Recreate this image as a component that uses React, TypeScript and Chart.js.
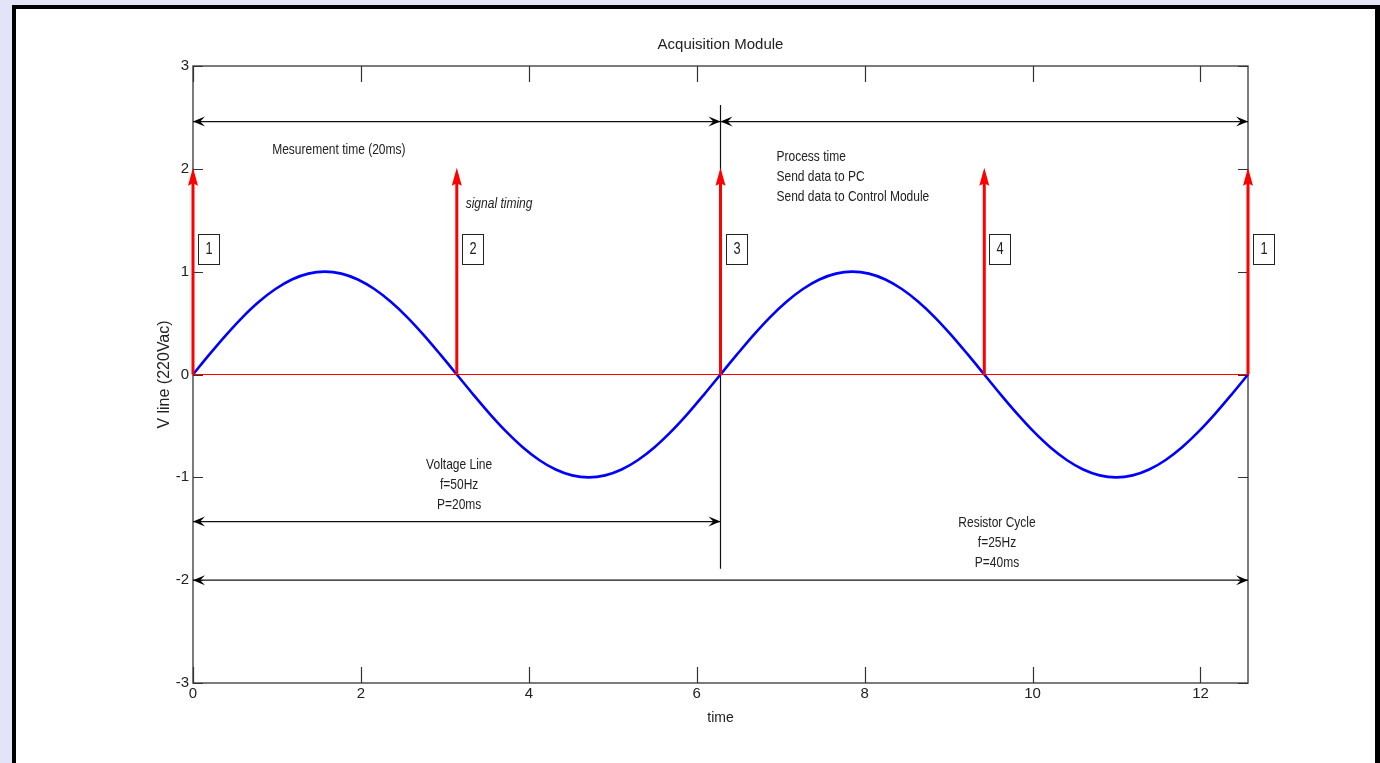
import React, { useEffect, useRef } from 'react';
import { Chart, registerables } from 'chart.js';

Chart.register(...registerables);

// ---- data ----
const SINE_X = [
  0, 0.196, 0.393, 0.589, 0.785, 0.982, 1.178, 1.374, 1.571, 1.767, 1.963, 2.16, 2.356, 2.553, 2.749, 2.945,
  3.142, 3.338, 3.534, 3.731, 3.927, 4.123, 4.32, 4.516, 4.712, 4.909, 5.105, 5.301, 5.498, 5.694, 5.891, 6.087,
  6.283, 6.48, 6.676, 6.872, 7.069, 7.265, 7.461, 7.658, 7.854, 8.05, 8.247, 8.443, 8.639, 8.836, 9.032, 9.228,
  9.425, 9.621, 9.818, 10.014, 10.21, 10.407, 10.603, 10.799, 10.996, 11.192, 11.388, 11.585, 11.781, 11.977, 12.174, 12.37,
  12.566,
];
const SINE_Y = [
  0, 0.195, 0.383, 0.556, 0.707, 0.831, 0.924, 0.981, 1, 0.981, 0.924, 0.831, 0.707, 0.556, 0.383, 0.195,
  0, -0.195, -0.383, -0.556, -0.707, -0.831, -0.924, -0.981, -1, -0.981, -0.924, -0.831, -0.707, -0.556, -0.383, -0.195,
  0, 0.195, 0.383, 0.556, 0.707, 0.831, 0.924, 0.981, 1, 0.981, 0.924, 0.831, 0.707, 0.556, 0.383, 0.195,
  0, -0.195, -0.383, -0.556, -0.707, -0.831, -0.924, -0.981, -1, -0.981, -0.924, -0.831, -0.707, -0.556, -0.383, -0.195,
  0,
];
const X_TICKS = [0, 2, 4, 6, 8, 10, 12];
const Y_TICKS = [-3, -2, -1, 0, 1, 2, 3];
const X_RANGE = [0, 12.566];
const Y_RANGE = [-3, 3];

const ZERO_LINE_X = [0, 12.566];
const MARKER_X = [0, 3.142, 6.283, 9.425, 12.566];
const MARKER_LABELS = ['1', '2', '3', '4', '1'];
const MARKER_TOP = 2;
const MARKER_LABEL_Y = 1.225;

const SPAN_FROM = [0, 6.283, 0, 0];
const SPAN_TO = [6.283, 12.566, 6.283, 12.566];
const SPAN_Y = [2.46, 2.46, -1.43, -2.0];

const DIVIDER_X = 6.283;
const DIVIDER_Y = [2.62, -1.89];

const NOTE_TEXT = [
  ['Mesurement time (20ms)'],
  ['signal timing'],
  ['Process time', 'Send data to PC', 'Send data to Control Module'],
  ['Voltage Line', 'f=50Hz', 'P=20ms'],
  ['Resistor Cycle', 'f=25Hz', 'P=40ms'],
];
const NOTE_X = [0.943, 3.248, 6.95, 3.17, 9.576];
const NOTE_Y = [2.18, 1.658, 2.115, -0.88, -1.44];
const NOTE_ALIGN: CanvasTextAlign[] = ['left', 'left', 'left', 'center', 'center'];
const NOTE_ITALIC = [false, true, false, false, false];

// ---- styles ----
const SANS = '"Liberation Sans", Arial, sans-serif';
const TEXT = '#222222';
const AXIS = '#505050';
const SQUEEZE = 0.8;

function drawHead(ctx: CanvasRenderingContext2D, tx: number, ty: number, dx: number, dy: number,
  len: number, half: number, back: number, color: string) {
  const bx = tx - dx * len;
  const by = ty - dy * len;
  const nx = -dy;
  const ny = dx;
  const mx = tx - dx * len * (1 - back);
  const my = ty - dy * len * (1 - back);
  ctx.beginPath();
  ctx.moveTo(tx, ty);
  ctx.lineTo(bx + nx * half, by + ny * half);
  ctx.lineTo(mx, my);
  ctx.lineTo(bx - nx * half, by - ny * half);
  ctx.closePath();
  ctx.fillStyle = color;
  ctx.fill();
}

function squeezedText(ctx: CanvasRenderingContext2D, text: string, x: number, y: number, align: CanvasTextAlign) {
  ctx.save();
  ctx.translate(x, y);
  ctx.scale(SQUEEZE, 1);
  ctx.textAlign = align;
  ctx.textBaseline = 'middle';
  ctx.fillText(text, 0, 0);
  ctx.restore();
}

const figurePlugin = {
  id: 'figure',
  beforeDraw(chart: any) {
    const { ctx, width, height } = chart;
    ctx.save();
    ctx.fillStyle = '#e4e4f8';
    ctx.fillRect(0, 0, width, height);
    ctx.fillStyle = '#000000';
    ctx.fillRect(12, 5, width - 12, height);
    ctx.fillStyle = '#ffffff';
    ctx.fillRect(16, 9, width - 21, height);
    ctx.restore();
  },
  beforeDatasetsDraw(chart: any) {
    const { ctx, chartArea: a } = chart;
    const xs = chart.scales.x;
    const ys = chart.scales.y;
    ctx.save();
    ctx.strokeStyle = AXIS;
    ctx.lineWidth = 1.5;
    ctx.strokeRect(a.left, a.top, a.right - a.left, a.bottom - a.top);
    ctx.lineWidth = 1.2;
    ctx.strokeStyle = '#333';
    ctx.beginPath();
    xs.ticks.forEach((t: any) => {
      const px = Math.round(xs.getPixelForValue(t.value)) + 0.5;
      ctx.moveTo(px, a.bottom);
      ctx.lineTo(px, a.bottom - 16);
      ctx.moveTo(px, a.top);
      ctx.lineTo(px, a.top + 16);
    });
    ys.ticks.forEach((t: any) => {
      const py = Math.round(ys.getPixelForValue(t.value)) + 0.5;
      ctx.moveTo(a.left, py);
      ctx.lineTo(a.left + 10, py);
      ctx.moveTo(a.right, py);
      ctx.lineTo(a.right - 10, py);
    });
    ctx.stroke();
    ctx.restore();
  },
  afterDatasetsDraw(chart: any) {
    const { ctx } = chart;
    const xs = chart.scales.x;
    const ys = chart.scales.y;
    ctx.save();
    // black span arrowheads
    SPAN_FROM.forEach((f, i) => {
      const x1 = xs.getPixelForValue(f);
      const x2 = xs.getPixelForValue(SPAN_TO[i]);
      const y = ys.getPixelForValue(SPAN_Y[i]);
      drawHead(ctx, x1, y, -1, 0, 12, 5, 0.4, '#000');
      drawHead(ctx, x2, y, 1, 0, 12, 5, 0.4, '#000');
    });
    // red marker arrowheads + numbered boxes
    MARKER_X.forEach((mx, i) => {
      const px = xs.getPixelForValue(mx);
      const top = ys.getPixelForValue(MARKER_TOP);
      drawHead(ctx, px, top - 1, 0, -1, 18, 5, 0.15, '#ff0000');
      const ly = ys.getPixelForValue(MARKER_LABEL_Y);
      const bx = Math.round(px) + 5.5;
      const by = Math.round(ly - 15) + 0.5;
      ctx.strokeStyle = '#222';
      ctx.lineWidth = 1;
      ctx.strokeRect(bx, by, 21, 30);
      ctx.fillStyle = TEXT;
      ctx.font = `16px ${SANS}`;
      squeezedText(ctx, MARKER_LABELS[i], bx + 10.5, by + 15, 'center');
    });
    // notes
    NOTE_TEXT.forEach((lines, i) => {
      const px = xs.getPixelForValue(NOTE_X[i]);
      const py = ys.getPixelForValue(NOTE_Y[i]);
      ctx.fillStyle = TEXT;
      ctx.font = `${NOTE_ITALIC[i] ? 'italic ' : ''}15px ${SANS}`;
      lines.forEach((line, j) => squeezedText(ctx, line, px, py + j * 20, NOTE_ALIGN[i]));
    });
    ctx.restore();
  },
};

export default function App() {
  const canvasRef = useRef<HTMLCanvasElement | null>(null);

  useEffect(() => {
    const canvas = canvasRef.current;
    if (!canvas) return;

    const datasets: any[] = [];
    datasets.push({
      data: SINE_X.map((x, i) => ({ x, y: SINE_Y[i] })),
      borderColor: '#0000ff',
      borderWidth: 2.6,
      pointRadius: 0,
      cubicInterpolationMode: 'monotone',
      clip: false,
      order: 2,
    });
    datasets.push({
      data: ZERO_LINE_X.map((x) => ({ x, y: 0 })),
      borderColor: '#ff0000',
      borderWidth: 1.2,
      pointRadius: 0,
      clip: false,
      order: 1,
    });
    datasets.push({
      data: DIVIDER_Y.map((y) => ({ x: DIVIDER_X, y })),
      borderColor: '#111111',
      borderWidth: 1.2,
      pointRadius: 0,
      clip: false,
      order: 3,
    });
    SPAN_FROM.forEach((f, i) => {
      datasets.push({
        data: [{ x: f, y: SPAN_Y[i] }, { x: SPAN_TO[i], y: SPAN_Y[i] }],
        borderColor: '#111111',
        borderWidth: 1.2,
        pointRadius: 0,
        clip: false,
        order: 3,
      });
    });
    MARKER_X.forEach((mx) => {
      datasets.push({
        data: [{ x: mx, y: 0 }, { x: mx, y: MARKER_TOP - 0.12 }],
        borderColor: '#ff0000',
        borderWidth: 3,
        pointRadius: 0,
        clip: false,
        order: 0,
      });
    });

    const chart = new Chart(canvas, {
      type: 'line',
      data: { datasets },
      plugins: [figurePlugin],
      options: {
        responsive: false,
        animation: false,
        devicePixelRatio: 1,
        events: [],
        layout: { padding: { left: 0, right: 132, top: 0, bottom: 0 } },
        plugins: {
          legend: { display: false },
          tooltip: { enabled: false },
          title: {
            display: true,
            text: 'Acquisition Module',
            fullSize: false,
            color: TEXT,
            font: { family: SANS, size: 15, weight: 'normal', lineHeight: 1.2 },
            padding: { top: 36, bottom: 12 },
          },
        },
        scales: {
          x: {
            type: 'linear',
            min: X_RANGE[0],
            max: X_RANGE[1],
            afterBuildTicks: (s: any) => { s.ticks = X_TICKS.map((v) => ({ value: v })); },
            afterFit: (s: any) => { s.height = 80; },
            grid: { display: false, drawTicks: false },
            border: { display: false },
            ticks: { padding: 2, color: TEXT, autoSkip: false, maxRotation: 0, font: { family: SANS, size: 15 } },
            title: {
              display: true,
              text: 'time',
              color: TEXT,
              font: { family: SANS, size: 14, lineHeight: 1.2 },
              padding: { top: 0, bottom: 36.6 },
            },
          },
          y: {
            type: 'linear',
            min: Y_RANGE[0],
            max: Y_RANGE[1],
            afterBuildTicks: (s: any) => { s.ticks = Y_TICKS.map((v) => ({ value: v })); },
            afterFit: (s: any) => { s.width = 193; },
            grid: { display: false, drawTicks: false },
            border: { display: false },
            ticks: { padding: 4, color: TEXT, autoSkip: false, font: { family: SANS, size: 15 } },
            title: {
              display: true,
              text: 'V line (220Vac)',
              color: TEXT,
              font: { family: SANS, size: 16, lineHeight: 1.2 },
              padding: { top: 155, bottom: 0 },
            },
          },
        },
      } as any,
    });

    return () => chart.destroy();
  }, []);

  return (
    <div style={{ position: 'fixed', left: 0, top: 0, width: 1380, height: 763, overflow: 'hidden' }}>
      <canvas ref={canvasRef} width={1380} height={763} style={{ display: 'block' }} />
    </div>
  );
}
